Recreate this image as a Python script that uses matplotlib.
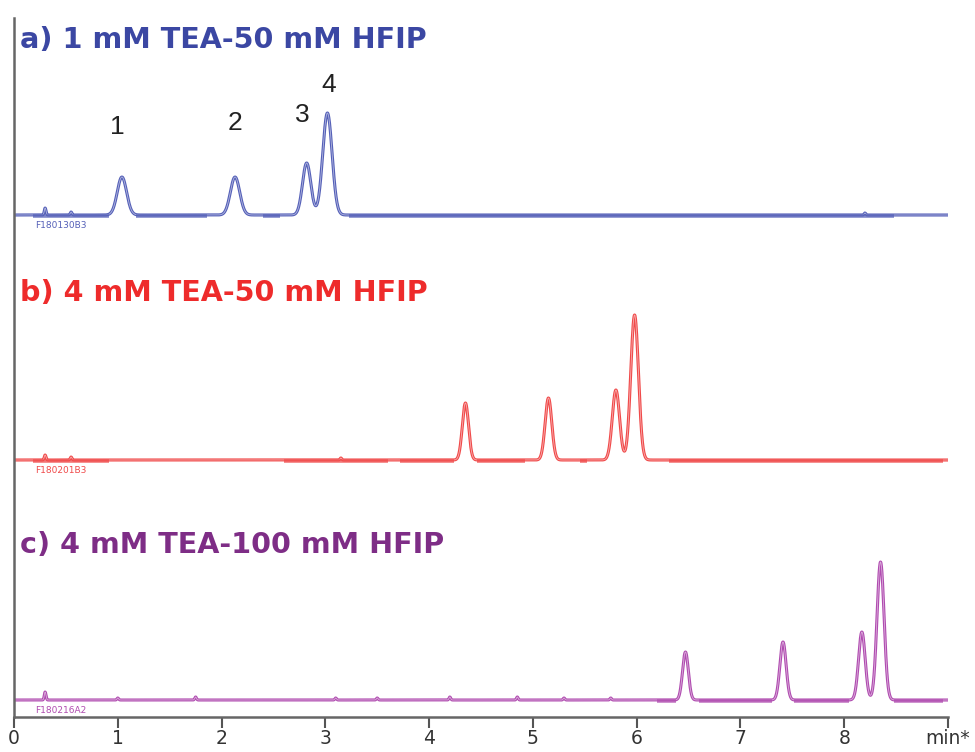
import numpy as np
import matplotlib.pyplot as plt

# retention times (min), heights and widths of the 4 peaks in each run
rt_a = [1.04, 2.13, 2.82, 3.02]
h_a = [38, 38, 52, 102]
w_a = [0.045, 0.045, 0.04, 0.045]

rt_b = [4.35, 5.15, 5.80, 5.98]
h_b = [57, 62, 70, 145]
w_b = [0.03, 0.032, 0.035, 0.037]

rt_c = [6.47, 7.41, 8.17, 8.35]
h_c = [48, 58, 68, 138]
w_c = [0.028, 0.03, 0.032, 0.034]

# small baseline spikes (time, height)
spikes_a = [(0.30, 7), (0.55, 3), (8.2, 2)]
spikes_b = [(0.30, 5), (0.55, 3), (3.15, 2)]
spikes_c = [(0.30, 8), (1.00, 2), (1.75, 3), (3.10, 2), (3.50, 2), (4.20, 3),
            (4.85, 3), (5.30, 2), (5.75, 2)]

# noisy baseline stretches (start, end) in min
noise_a = [(0.18, 0.92), (1.18, 1.86), (2.40, 2.56), (3.23, 8.48)]
noise_b = [(0.18, 0.92), (2.60, 3.60), (3.72, 4.24), (4.46, 4.92), (5.45, 5.52), (6.31, 8.95)]
noise_c = [(6.20, 6.38), (6.60, 7.30), (7.52, 8.05), (8.48, 8.95)]

titles = ['a) 1 mM TEA-50 mM HFIP', 'b) 4 mM TEA-50 mM HFIP', 'c) 4 mM TEA-100 mM HFIP']
file_ids = ['F180130B3', 'F180201B3', 'F180216A2']
peak_labels = ['1', '2', '3', '4']

ticks = [0, 1, 2, 3, 4, 5, 6, 7, 8, 9]
tick_labels = ['0', '1', '2', '3', '4', '5', '6', '7', '8', 'min*']

line_colors = ['#5560b8', '#f04a4a', '#b04cb0']
title_colors = ['#3b47a3', '#ee2b2b', '#7e2d86']

# vertical offsets of the three traces (axis units ~ pixels)
offsets = [502, 257, 17]

fig = plt.figure(figsize=(9.75, 7.52), dpi=100)
ax = fig.add_axes([14 / 975, 1 - 717 / 752, (948 - 14) / 975, (717 - 18) / 752])

t = np.linspace(0, 9, 4000)


def trace(rts, hs, ws, spikes):
    y = np.zeros_like(t)
    for r, h, w in zip(rts, hs, ws):
        y += h * np.exp(-0.5 * ((t - r) / w) ** 2)
    for r, h in spikes:
        y += h * np.exp(-0.5 * ((t - r) / 0.008) ** 2)
    return y


runs = [(rt_a, h_a, w_a, spikes_a, noise_a),
        (rt_b, h_b, w_b, spikes_b, noise_b),
        (rt_c, h_c, w_c, spikes_c, noise_c)]

for i, (rts, hs, ws, spikes, noise) in enumerate(runs):
    y = trace(rts, hs, ws, spikes) + offsets[i]
    ax.plot(t, y, color=line_colors[i], lw=2.2, solid_joinstyle='round')
    ax.plot(t, y, color='white', lw=0.6, alpha=0.55)
    for s, e in noise:
        ax.plot([s, e], [offsets[i] - 0.5, offsets[i] - 0.5], color=line_colors[i],
                lw=2.6, alpha=0.75, solid_capstyle='butt')
    ax.text(0.2, offsets[i] - 6, file_ids[i], color=line_colors[i], fontsize=6.5,
            va='top', ha='left', family='DejaVu Sans')

# peak numbers on trace a
lab_x = [1.0, 2.13, 2.78, 3.03]
lab_y = [590, 594, 602, 632]
for s, lx, ly in zip(peak_labels, lab_x, lab_y):
    ax.text(lx, ly, s, fontsize=19, ha='center', va='center', color='#222222',
            family='Liberation Sans')

title_y = [40, 293, 545]
for i in range(3):
    fig.text(20 / 975, 1 - title_y[i] / 752, titles[i], color=title_colors[i],
             fontsize=20.6, fontweight='bold', family='DejaVu Sans', va='center')

ax.set_xlim(0, 9)
ax.set_ylim(0, 699)
ax.set_xticks(ticks)
ax.set_xticklabels(tick_labels)
ax.set_yticks([])
for side in ['top', 'right']:
    ax.spines[side].set_visible(False)
for side in ['left', 'bottom']:
    ax.spines[side].set_color('#666666')
    ax.spines[side].set_linewidth(1.8)
ax.tick_params(axis='x', direction='out', length=8, width=1.5, color='#555555',
               labelsize=13.5, labelcolor='#333333', pad=1)

fig.savefig('out.png', dpi=100)
